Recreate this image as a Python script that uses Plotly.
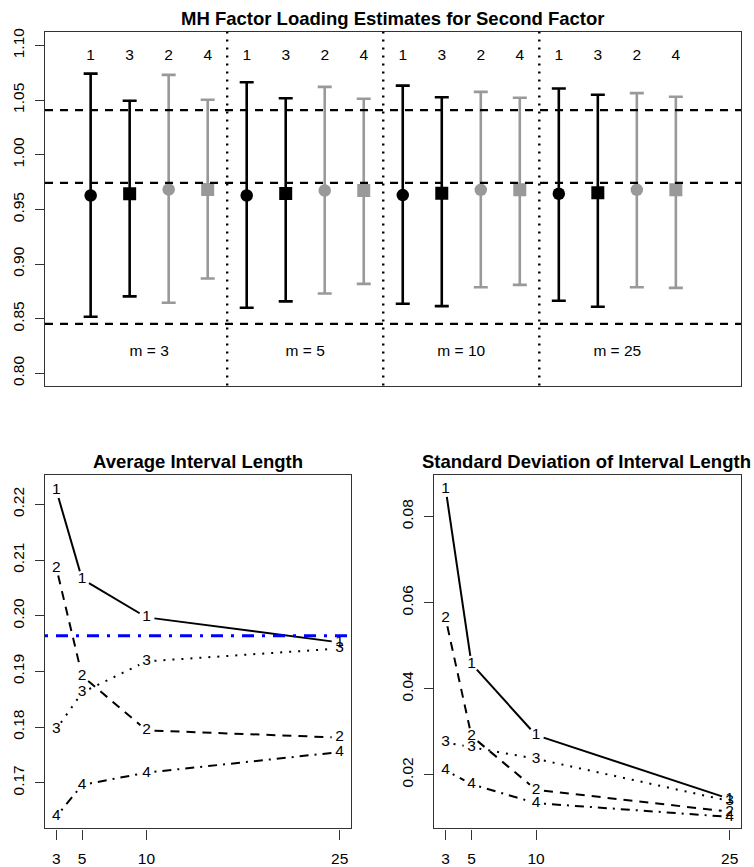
import math
import plotly.graph_objects as go

# ---------------------------------------------------------------- data
m_values = [3, 5, 10, 25]
method_order = [1, 3, 2, 4]          # left-to-right order within each m block

# point estimates and interval bounds, one list per method (over m_values)
est_1 = [0.9627, 0.9627, 0.9631, 0.9643]
lo_1 = [0.8518, 0.8600, 0.8636, 0.8664]
hi_1 = [1.0743, 1.0664, 1.0633, 1.0606]

est_3 = [0.9643, 0.9645, 0.9649, 0.9652]
lo_3 = [0.8704, 0.8658, 0.8615, 0.8609]
hi_3 = [1.0494, 1.0518, 1.0527, 1.0549]

est_2 = [0.9682, 0.9673, 0.9679, 0.9679]
lo_2 = [0.8645, 0.8731, 0.8788, 0.8788]
hi_2 = [1.0731, 1.0622, 1.0576, 1.0564]

est_4 = [0.9682, 0.9673, 0.9679, 0.9679]
lo_4 = [0.8867, 0.8818, 0.8809, 0.8782]
hi_4 = [1.0504, 1.0513, 1.0522, 1.0531]

# reference loading and interval bounds
ref_lines = [1.0409, 0.9743, 0.8452]

# average interval length by method
avg_len_1 = [0.2225, 0.2066, 0.1997, 0.1952]
avg_len_2 = [0.2086, 0.1892, 0.1794, 0.1781]
avg_len_3 = [0.1796, 0.1862, 0.1918, 0.1941]
avg_len_4 = [0.1639, 0.1696, 0.1718, 0.1755]
true_len = 0.1964

# standard deviation of interval length by method
sd_len_1 = [0.0864, 0.0458, 0.0292, 0.0144]
sd_len_2 = [0.0563, 0.0290, 0.0165, 0.0114]
sd_len_3 = [0.0275, 0.0264, 0.0237, 0.0139]
sd_len_4 = [0.0210, 0.0178, 0.0134, 0.0102]

# ---------------------------------------------------------------- layout helpers
W, H = 754, 867
FONT = "Liberation Sans, Arial, Helvetica, sans-serif"
BOX = "#333333"
GREY = "#999999"
TXT = 15.5        # size of tick labels and in-plot labels
TTL = 18.5        # size of panel titles


def px_x(p):
    return p / W


def px_y(p):
    return 1 - p / H


# panel boxes in pixels: (left, right, top, bottom)
top_box = (45, 741, 28, 383.3)
bl_box = (45, 351, 472.7, 828.3)
br_box = (434.3, 741, 473.3, 828.3)

top_xr = [-0.17, 17.67]
top_yr = [0.7888, 1.1125]
bl_xr = [2.12, 25.88]
bl_yr = [0.16177, 0.22536]
br_xr = [2.12, 25.88]
br_yr = [0.00751, 0.08964]

fig = go.Figure()

# ---------------------------------------------------------------- top panel
series = {
    1: (est_1, lo_1, hi_1, "black", "circle"),
    3: (est_3, lo_3, hi_3, "black", "square"),
    2: (est_2, lo_2, hi_2, GREY, "circle"),
    4: (est_4, lo_4, hi_4, GREY, "square"),
}

for k, meth in enumerate(method_order):
    est, lo, hi, col, sym = series[meth]
    xs = [1 + k + 4 * g for g in range(len(m_values))]
    fig.add_trace(go.Scatter(
        x=xs, y=est, mode="markers",
        marker=dict(color=col, symbol=sym, size=13 if sym == "square" else 12.5,
                    line=dict(width=0)),
        error_y=dict(type="data", symmetric=False,
                     array=[h - e for h, e in zip(hi, est)],
                     arrayminus=[e - l for e, l in zip(est, lo)],
                     color=col, thickness=2.6, width=7),
        xaxis="x", yaxis="y", showlegend=False, hoverinfo="skip",
    ))

# method labels above each interval
lab_x, lab_t = [], []
for g in range(len(m_values)):
    for k, meth in enumerate(method_order):
        lab_x.append(1 + k + 4 * g)
        lab_t.append(str(meth))
fig.add_trace(go.Scatter(
    x=lab_x, y=[1.09] * len(lab_x), mode="text", text=lab_t,
    textfont=dict(family=FONT, size=TXT, color="black"),
    xaxis="x", yaxis="y", showlegend=False, hoverinfo="skip",
))

# block labels
fig.add_trace(go.Scatter(
    x=[2.5 + 4 * g for g in range(len(m_values))], y=[0.8197] * len(m_values),
    mode="text", text=[f"m = {m}" for m in m_values],
    textfont=dict(family=FONT, size=TXT, color="black"),
    xaxis="x", yaxis="y", showlegend=False, hoverinfo="skip",
))

shapes = []
for yv in ref_lines:
    shapes.append(dict(type="line", xref="x domain", yref="y", x0=0, x1=1, y0=yv, y1=yv,
                       line=dict(color="black", width=2.4, dash="8px,7px")))
for g in range(1, len(m_values)):
    xv = 4 * g + 0.5
    shapes.append(dict(type="line", xref="x", yref="y domain", x0=xv, x1=xv, y0=0, y1=1,
                       line=dict(color="black", width=2.4, dash="2px,6px")))

# ---------------------------------------------------------------- bottom panels
GAP = 8.0  # pixel gap left around each numbered point


def gapped(xs, ys, box, xr, yr):
    sx = (box[1] - box[0]) / (xr[1] - xr[0])
    sy = (box[3] - box[2]) / (yr[1] - yr[0])
    ox, oy = [], []
    for i in range(len(xs) - 1):
        dx, dy = xs[i + 1] - xs[i], ys[i + 1] - ys[i]
        d = math.hypot(dx * sx, dy * sy)
        if d <= 2 * GAP:
            continue
        f = GAP / d
        ox += [xs[i] + dx * f, xs[i + 1] - dx * f, None]
        oy += [ys[i] + dy * f, ys[i + 1] - dy * f, None]
    return ox, oy


dashes = {1: "solid", 2: "9px,7px", 3: "2px,7px", 4: "2px,6px,9px,6px"}


def add_lines(vals, box, xr, yr, xa, ya):
    for meth, v in vals:
        gx, gy = gapped(m_values, v, box, xr, yr)
        fig.add_trace(go.Scatter(
            x=gx, y=gy, mode="lines", line=dict(color="black", width=2, dash=dashes[meth]),
            xaxis=xa, yaxis=ya, showlegend=False, hoverinfo="skip", connectgaps=False,
        ))
        fig.add_trace(go.Scatter(
            x=m_values, y=v, mode="text", text=[str(meth)] * len(m_values),
            textfont=dict(family=FONT, size=TXT, color="black"),
            xaxis=xa, yaxis=ya, showlegend=False, hoverinfo="skip",
        ))


add_lines([(1, avg_len_1), (2, avg_len_2), (3, avg_len_3), (4, avg_len_4)],
          bl_box, bl_xr, bl_yr, "x2", "y2")
add_lines([(1, sd_len_1), (2, sd_len_2), (3, sd_len_3), (4, sd_len_4)],
          br_box, br_xr, br_yr, "x3", "y3")

shapes.append(dict(type="line", xref="x2 domain", yref="y2", x0=0, x1=1,
                   y0=true_len, y1=true_len,
                   line=dict(color="#0000ff", width=3, dash="3px,8px,12px,8px")))

# ---------------------------------------------------------------- axes
tickfont = dict(family=FONT, size=TXT, color="black")


def xaxis(box, rng, **kw):
    d = dict(domain=[px_x(box[0]), px_x(box[1])], range=rng, showgrid=False, zeroline=False,
             showline=True, mirror=True, linecolor=BOX, linewidth=1.3, tickfont=tickfont,
             fixedrange=True)
    d.update(kw)
    return d


def yaxis(box, rng, tickvals, **kw):
    d = dict(domain=[px_y(box[3]), px_y(box[2])], range=rng, showgrid=False, zeroline=False,
             showline=True, mirror=True, linecolor=BOX, linewidth=1.3, tickfont=tickfont,
             tickvals=tickvals, tickformat=".2f", ticks="outside", ticklen=9, tickwidth=1.2,
             tickcolor=BOX, tickangle=-90, ticklabelstandoff=5, fixedrange=True)
    d.update(kw)
    return d


def title(text, xp, yp):
    return dict(text=f"<b>{text}</b>", xref="paper", yref="paper",
                x=px_x(xp), y=px_y(yp), xanchor="center", yanchor="middle",
                showarrow=False, font=dict(family=FONT, size=TTL, color="black"))


fig.update_layout(
    width=W, height=H, margin=dict(l=0, r=0, t=0, b=0),
    paper_bgcolor="white", plot_bgcolor="white",
    font=dict(family=FONT, color="black"),
    xaxis=xaxis(top_box, top_xr, showticklabels=False, ticks=""),
    yaxis=yaxis(top_box, top_yr, [0.80, 0.85, 0.90, 0.95, 1.00, 1.05, 1.10]),
    xaxis2=xaxis(bl_box, bl_xr, anchor="y2", tickvals=m_values, ticks="outside", ticklen=10,
                 tickwidth=1.2, tickcolor=BOX, ticklabelstandoff=6),
    yaxis2=yaxis(bl_box, bl_yr, [0.17, 0.18, 0.19, 0.20, 0.21, 0.22], anchor="x2"),
    xaxis3=xaxis(br_box, br_xr, anchor="y3", tickvals=m_values, ticks="outside", ticklen=10,
                 tickwidth=1.2, tickcolor=BOX, ticklabelstandoff=6),
    yaxis3=yaxis(br_box, br_yr, [0.02, 0.04, 0.06, 0.08], anchor="x3"),
    shapes=shapes,
    annotations=[
        title("MH Factor Loading Estimates for Second Factor", 393, 15),
        title("Average Interval Length", 198, 460),
        title("Standard Deviation of Interval Length", 586, 460),
    ],
)

fig.write_html("out.html")
